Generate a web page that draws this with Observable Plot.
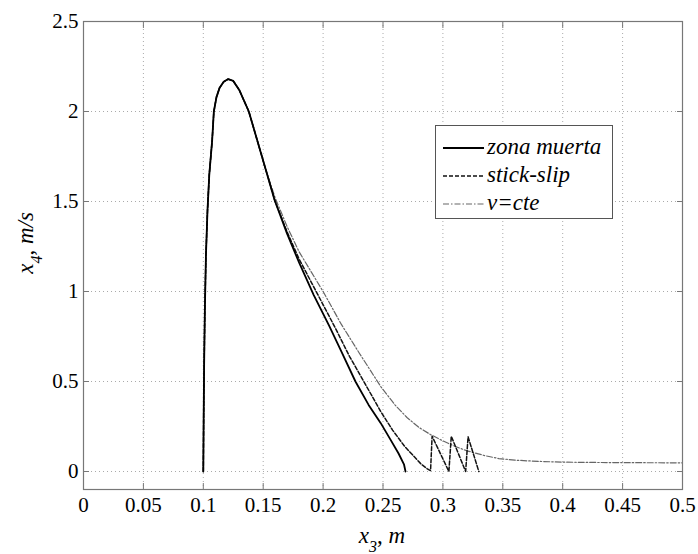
<!DOCTYPE html>
<html><head><meta charset="utf-8">
<script src="https://cdn.jsdelivr.net/npm/d3@7"></script>
<script src="https://cdn.jsdelivr.net/npm/@observablehq/plot@0.6"></script>
<style>body{margin:0;background:#fff} svg text{font-family:"Liberation Serif","DejaVu Serif",serif !important;}</style>
</head><body><div id="chart"></div>
<script>
const xTicks = [0, 0.05, 0.1, 0.15, 0.2, 0.25, 0.3, 0.35, 0.4, 0.45, 0.5];
const yTicks = [0, 0.5, 1, 1.5, 2, 2.5];
const seriesNames = ["zona muerta", "stick-slip", "v=cte"];

// common rise and peak
const riseX = [0.1, 0.1003, 0.1007, 0.1013, 0.1022, 0.1035, 0.105, 0.1074, 0.1088, 0.111, 0.1135, 0.117, 0.1208, 0.125, 0.13, 0.138, 0.145, 0.152];
const riseY = [0, 0.3, 0.6, 0.9, 1.2, 1.45, 1.65, 1.84, 2.0, 2.08, 2.13, 2.165, 2.18, 2.17, 2.12, 2.0, 1.84, 1.68];

const zonaX = [0.1594, 0.17, 0.18, 0.1922, 0.205, 0.215, 0.227, 0.238, 0.248, 0.256, 0.263, 0.2675, 0.2688];
const zonaY = [1.51, 1.32, 1.16, 0.98, 0.81, 0.67, 0.5, 0.37, 0.27, 0.18, 0.1, 0.04, 0];

const stickX = [0.16, 0.17, 0.18, 0.195, 0.21, 0.222, 0.234, 0.248, 0.258, 0.268, 0.2757, 0.282, 0.287, 0.2897, 0.291, 0.305, 0.307, 0.319, 0.321, 0.330];
const stickY = [1.5, 1.33, 1.18, 0.99, 0.8, 0.64, 0.5, 0.334, 0.23, 0.14, 0.085, 0.04, 0.015, 0.005, 0.196, 0, 0.196, 0, 0.193, 0];

const cteX = [0.16, 0.17, 0.18, 0.2, 0.215, 0.23, 0.248, 0.26, 0.27, 0.28, 0.2897, 0.3, 0.31, 0.32, 0.335, 0.3467, 0.36, 0.38, 0.4, 0.43, 0.46, 0.5];
const cteY = [1.52, 1.36, 1.22, 1.0, 0.82, 0.66, 0.473, 0.37, 0.3, 0.245, 0.205, 0.17, 0.14, 0.115, 0.088, 0.072, 0.063, 0.056, 0.052, 0.05, 0.049, 0.048];

function build(name, xs, ys) {
  const pts = riseX.map((x, i) => ({series: name, x, y: riseY[i]}));
  xs.forEach((x, i) => pts.push({series: name, x, y: ys[i]}));
  return pts;
}
const zona = build(seriesNames[0], zonaX, zonaY);
const stick = build(seriesNames[1], stickX, stickY);
const cte = build(seriesNames[2], cteX, cteY);

const serif = "Liberation Serif, DejaVu Serif, serif";
const gridStyle = {stroke: "#aaa", strokeOpacity: 1, strokeDasharray: "1,3", strokeWidth: 1};

const plot = Plot.plot({
  width: 698, height: 554,
  marginLeft: 83, marginRight: 16, marginTop: 21, marginBottom: 65,
  x: {domain: [0, 0.5]},
  y: {domain: [-0.1, 2.5]},
  style: {fontFamily: serif, fontSize: "20px", color: "#000", background: "#fff"},
  marks: [
    Plot.gridX(xTicks, gridStyle),
    Plot.gridY(yTicks, gridStyle),
    Plot.line(cte, {x: "x", y: "y", stroke: "#666", strokeWidth: 1.2, strokeDasharray: "6,2,1.5,2"}),
    Plot.line(stick, {x: "x", y: "y", stroke: "#111", strokeWidth: 1.5, strokeDasharray: "4,2"}),
    Plot.line(zona, {x: "x", y: "y", stroke: "#000", strokeWidth: 1.8}),
    Plot.frame({stroke: "#777", strokeWidth: 1.2}),
    Plot.axisX(xTicks, {anchor: "bottom", tickSize: -6, tickFormat: () => "", label: null, stroke: "#777"}),
    Plot.axisX(xTicks, {anchor: "top", tickSize: -6, tickFormat: () => "", label: null, stroke: "#777"}),
    Plot.axisY(yTicks, {anchor: "left", tickSize: -6, tickFormat: () => "", label: null, stroke: "#777"}),
    Plot.axisY(yTicks, {anchor: "right", tickSize: -6, tickFormat: () => "", label: null, stroke: "#777"}),
    Plot.axisX(xTicks, {anchor: "bottom", tickSize: 0, tickPadding: 8, tickFormat: d => String(d), label: null, fontSize: 21}),
    Plot.axisY(yTicks, {anchor: "left", tickSize: 0, tickPadding: 5, tickFormat: d => String(d), label: null, fontSize: 21})
  ]
});
document.getElementById("chart").appendChild(plot);

const svg = d3.select(plot);
// axis labels
function addLabel(g, parts) {
  const t = g.append("text").attr("font-family", serif).attr("font-size", 23).attr("fill", "#000").attr("text-anchor", "middle");
  parts.forEach(p => {
    const ts = t.append("tspan").text(p.text);
    if (p.italic) ts.attr("font-style", "italic");
    if (p.sub) ts.attr("baseline-shift", "sub").attr("font-size", 16);
  });
  return t;
}
const xl = svg.append("g").attr("transform", "translate(382,543)");
addLabel(xl, [{text: "x", italic: true}, {text: "3", italic: true, sub: true}, {text: ", "}, {text: "m", italic: true}]);
const yl = svg.append("g").attr("transform", "translate(33,243) rotate(-90)");
addLabel(yl, [{text: "x", italic: true}, {text: "4", italic: true, sub: true}, {text: ", "}, {text: "m/s", italic: true}]);

// legend
const lg = svg.append("g");
lg.append("rect").attr("x", 435.5).attr("y", 125.5).attr("width", 177).attr("height", 93).attr("fill", "#fff").attr("stroke", "#555").attr("stroke-width", 1);
const legStyles = [
  {stroke: "#000", dash: null, w: 1.8},
  {stroke: "#111", dash: "4,2", w: 1.5},
  {stroke: "#666", dash: "6,2,1.5,2", w: 1.2}
];
seriesNames.forEach((name, i) => {
  const yy = 148 + i * 28;
  const ln = lg.append("line").attr("x1", 443).attr("x2", 484).attr("y1", yy).attr("y2", yy)
    .attr("stroke", legStyles[i].stroke).attr("stroke-width", legStyles[i].w);
  if (legStyles[i].dash) ln.attr("stroke-dasharray", legStyles[i].dash);
  lg.append("text").attr("x", 487).attr("y", yy + 6).attr("text-anchor", "start").attr("font-family", serif).attr("font-style", "italic")
    .attr("font-size", 23).attr("fill", "#000").text(name);
});
</script>
</body></html>
